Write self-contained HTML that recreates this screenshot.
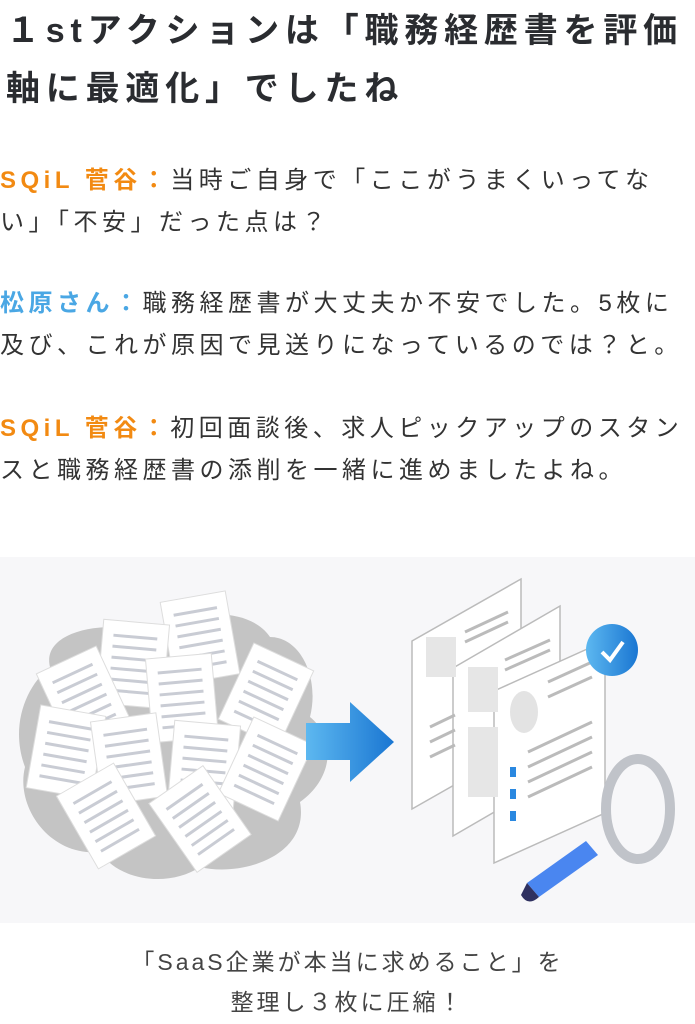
<!DOCTYPE html>
<html><head><meta charset="utf-8"><style>
body{margin:0;width:695px;height:1024px;background:#fff;position:relative;overflow:hidden;font-family:"Liberation Sans","Noto Sans CJK JP",sans-serif;color:#333}
.t{position:absolute;left:6px;font-size:34px;font-weight:bold;letter-spacing:5.8px;white-space:nowrap;color:#2a2c30;line-height:40px}
.p{position:absolute;left:0;font-size:24px;letter-spacing:4.5px;white-space:nowrap;line-height:42px;color:#333}
.o{color:#f28a12;font-weight:bold}.b{color:#4aa7e4;font-weight:bold}
.c{position:absolute;left:0;width:695px;text-align:center;font-size:23px;letter-spacing:3px;color:#444;line-height:40px;white-space:nowrap}
</style></head><body>
<div class="t" style="top:11px">１stアクションは「職務経歴書を評価</div>
<div class="t" style="top:69px">軸に最適化」でしたね</div>
<div class="p" style="top:160px"><span class="o">SQiL 菅谷：</span>当時ご自身で「ここがうまくいってな<br>い」「不安」だった点は？</div>
<div class="p" style="top:283px"><span class="b">松原さん：</span>職務経歴書が大丈夫か不安でした。5枚に<br>及び、これが原因で見送りになっているのでは？と。</div>
<div class="p" style="top:408px"><span class="o">SQiL 菅谷：</span>初回面談後、求人ピックアップのスタン<br>スと職務経歴書の添削を一緒に進めましたよね。</div>
<svg style="position:absolute;left:0;top:557px" width="695" height="366" viewBox="0 0 695 366">
<defs><linearGradient id="g" x1="0" x2="1"><stop offset="0" stop-color="#5db8f0"/><stop offset="1" stop-color="#1a76d2"/></linearGradient>
<g id="d"><rect x="-33" y="-42" width="66" height="84" fill="#fff" stroke="#ddd"/><g stroke="#c9ccd4" stroke-width="3"><line x1="-22" y1="-27" x2="22" y2="-27"/><line x1="-22" y1="-16" x2="22" y2="-16"/><line x1="-22" y1="-5" x2="22" y2="-5"/><line x1="-22" y1="6" x2="22" y2="6"/><line x1="-22" y1="17" x2="22" y2="17"/><line x1="-22" y1="28" x2="22" y2="28"/></g></g></defs>
<rect width="695" height="366" fill="#f7f7f9"/>
<path d="M50 110 C40 70 120 60 160 80 C190 50 250 50 270 80 C300 80 320 120 310 160 C335 180 335 220 300 245 C310 300 240 320 200 310 C170 330 120 325 100 295 C50 300 15 250 25 210 C10 170 25 130 50 110Z" fill="#c4c4c4"/>
<use href="#d" transform="translate(200,81) rotate(-10)"/>
<use href="#d" transform="translate(133,107) rotate(5)"/>
<use href="#d" transform="translate(84,141) rotate(-25)"/>
<use href="#d" transform="translate(182,141) rotate(-5)"/>
<use href="#d" transform="translate(266,138) rotate(25)"/>
<use href="#d" transform="translate(66,195) rotate(10)"/>
<use href="#d" transform="translate(129,202) rotate(-8)"/>
<use href="#d" transform="translate(204,208) rotate(5)"/>
<use href="#d" transform="translate(266,212) rotate(25)"/>
<use href="#d" transform="translate(106,259) rotate(-30)"/>
<use href="#d" transform="translate(200,262) rotate(-35)"/>
<path d="M306 166 H350 V145 L394 185 L350 225 V203 H306Z" fill="url(#g)"/>
<g stroke="#bbb" stroke-width="1.5">
<path d="M412 84 L521 22 V190 L412 252Z" fill="#fff"/>
<path d="M453 111 L560 49 V217 L453 279Z" fill="#fff"/>
<path d="M494 134 L605 84 V256 L494 306Z" fill="#fff"/>
</g>
<rect x="426" y="80" width="30" height="40" fill="#e6e6e6"/>
<rect x="468" y="110" width="30" height="45" fill="#e6e6e6"/>
<rect x="468" y="170" width="30" height="70" fill="#e6e6e6"/>
<ellipse cx="524" cy="155" rx="14" ry="21" fill="#e3e3e3"/>
<g stroke="#bbb" stroke-width="3">
<line x1="465" y1="75" x2="508" y2="55"/><line x1="465" y1="85" x2="508" y2="65"/>
<line x1="505" y1="103" x2="550" y2="83"/><line x1="505" y1="113" x2="550" y2="93"/>
<line x1="548" y1="125" x2="592" y2="105"/><line x1="548" y1="140" x2="592" y2="120"/>
<line x1="528" y1="195" x2="592" y2="165"/><line x1="528" y1="210" x2="592" y2="180"/><line x1="528" y1="225" x2="592" y2="195"/><line x1="528" y1="240" x2="592" y2="210"/>
<line x1="430" y1="170" x2="455" y2="158"/><line x1="430" y1="185" x2="455" y2="173"/><line x1="430" y1="200" x2="455" y2="188"/>
</g>
<g fill="#2a88e0"><rect x="510" y="210" width="6" height="10"/><rect x="510" y="232" width="6" height="10"/><rect x="510" y="254" width="6" height="10"/></g>
<circle cx="612" cy="93" r="26" fill="url(#g)"/>
<path d="M602 95 L610 103 L623 85" stroke="#fff" stroke-width="4" fill="none"/>
<ellipse cx="638" cy="252" rx="32" ry="50" fill="none" stroke="#c0c3c9" stroke-width="10"/>
<path d="M527 326 L586 284 L598 298 L539 340Z" fill="#4a86f0"/>
<path d="M527 326 L539 340 Q528 350 521 338Z" fill="#2f3160"/>
</svg>
<div class="c" style="top:942px">「SaaS企業が本当に求めること」を</div>
<div class="c" style="top:982px">整理し３枚に圧縮！</div>
</body></html>
